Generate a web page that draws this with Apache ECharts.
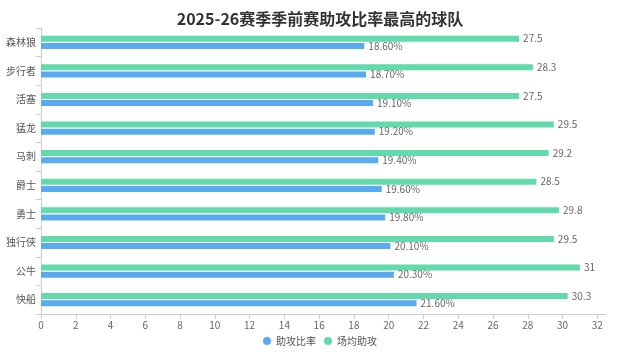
<!DOCTYPE html>
<html>
<head>
<meta charset="utf-8">
<script src="https://cdn.jsdelivr.net/npm/echarts@6/dist/echarts.min.js"></script>
<style>
html,body{margin:0;padding:0;background:#fff;}
#main{width:640px;height:356px;}
</style>
</head>
<body>
<div id="main"></div>
<script>
// Categories from bottom to top
var teams = ['快船', '公牛', '独行侠', '勇士', '爵士', '马刺', '猛龙', '活塞', '步行者', '森林狼'];
// 助攻比率 (%)
var assistRatio = [21.6, 20.3, 20.1, 19.8, 19.6, 19.4, 19.2, 19.1, 18.7, 18.6];
// 场均助攻
var assistsPerGame = [30.3, 31, 29.5, 29.8, 28.5, 29.2, 29.5, 27.5, 28.3, 27.5];
var seriesNames = ['助攻比率', '场均助攻'];
var titleText = '2025-26赛季季前赛助攻比率最高的球队';

var font = '"Noto Sans CJK SC", "Noto Sans", sans-serif';
var chart = echarts.init(document.getElementById('main'), null, {renderer: 'canvas'});
chart.setOption({
  animation: false,
  backgroundColor: '#fff',
  textStyle: {fontFamily: font},
  title: {
    text: titleText,
    left: 'center',
    top: 6,
    textStyle: {fontSize: 16, fontWeight: 'bold', color: '#333', fontFamily: font}
  },
  legend: {
    data: seriesNames,
    bottom: 5,
    left: 'center',
    icon: 'circle',
    itemWidth: 8,
    itemHeight: 8,
    itemGap: 8,
    textStyle: {fontSize: 10, color: '#555', fontFamily: font}
  },
  grid: {left: 41, right: 34, top: 28, bottom: 42, containLabel: false},
  xAxis: {
    type: 'value',
    min: 0,
    max: 32.5,
    interval: 2,
    axisLine: {show: true, lineStyle: {color: '#ccc'}},
    axisTick: {show: true, lineStyle: {color: '#ccc'}},
    splitLine: {show: false},
    axisLabel: {fontSize: 10, color: '#666', margin: 6, showMaxLabel: false}
  },
  yAxis: {
    type: 'category',
    data: teams,
    axisLine: {show: true, lineStyle: {color: '#ccc'}},
    axisTick: {show: true, lineStyle: {color: '#ccc'}},
    axisLabel: {fontSize: 10, color: '#555', margin: 5}
  },
  series: [
    {
      name: seriesNames[1],
      type: 'bar',
      data: assistsPerGame,
      barWidth: 6,
      barGap: '20%',
      itemStyle: {color: '#62daab'},
      label: {
        show: true, position: 'right', distance: 4,
        fontSize: 10, color: '#666'
      }
    },
    {
      name: seriesNames[0],
      type: 'bar',
      data: assistRatio,
      barWidth: 6,
      barGap: '20%',
      itemStyle: {color: '#5aaaf0'},
      label: {
        show: true, position: 'right', distance: 4,
        fontSize: 10, color: '#666',
        formatter: function (p) { return p.value.toFixed(2) + '%'; }
      }
    }
  ]
});
</script>
</body>
</html>
